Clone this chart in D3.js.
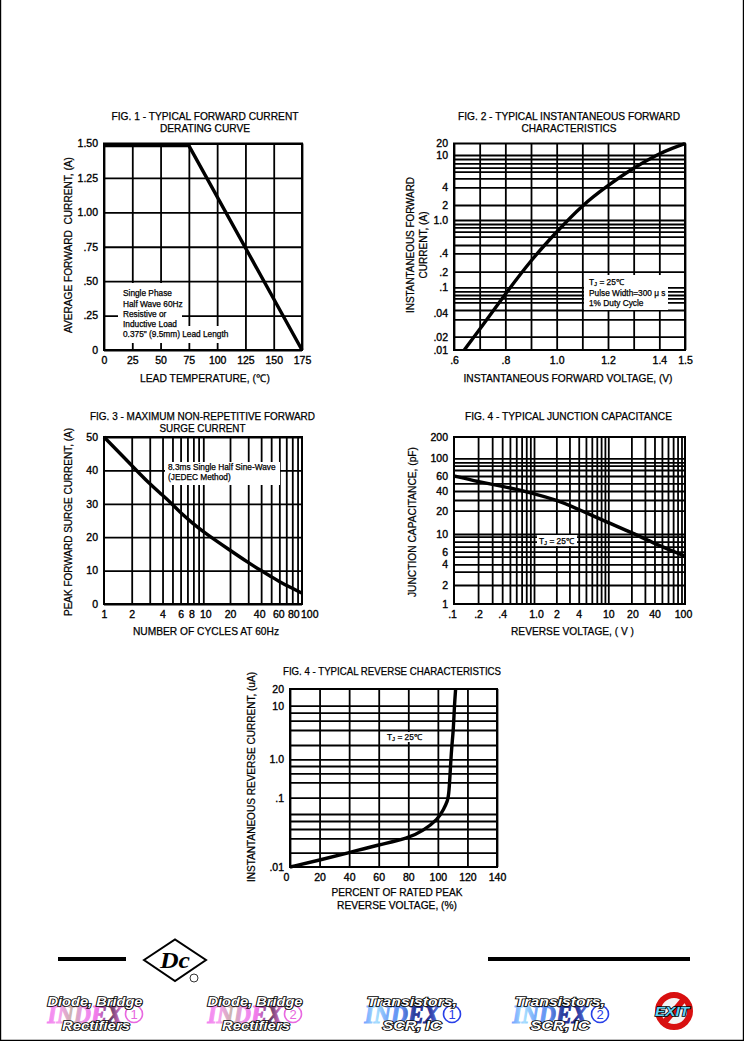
<!DOCTYPE html>
<html><head><meta charset="utf-8">
<script src="https://cdn.jsdelivr.net/npm/d3@7/dist/d3.min.js"></script>
<style>
html,body{margin:0;padding:0;background:#fff}
svg{display:block}
text{font-family:"Liberation Sans",Arial,sans-serif;fill:#000;white-space:pre}
.grid line{stroke:#000;stroke-width:1.8}
.grid path{display:none}
.tick text{font-size:10.5px;stroke:#000;stroke-width:.35}
.title,.axt{font-size:10.6px;text-anchor:middle;stroke:#000;stroke-width:.25}
.note{font-size:8.3px;stroke:#000;stroke-width:.25}
.curve{fill:none;stroke:#000;stroke-width:3.4;stroke-linejoin:round}
</style></head><body>
<script>
// ---- data ----
const fig1XTicks=[0,25,50,75,100,125,150,175];
const fig1YTicks=[0,.25,.5,.75,1,1.25,1.5];
const fig1YLabels=["0",".25",".50",".75","1.00","1.25","1.50"];
const fig1Temp=[0,75,175];
const fig1Current=[1.485,1.485,0];

const fig2XTicks=[.6,.7,.8,.9,1,1.1,1.2,1.3,1.4,1.5];
const fig2XLabelled=[.6,.8,1,1.2,1.4,1.5];
const fig2XLabels=[".6",".8","1.0","1.2","1.4","1.5"];
const fig2YGrid=[10,9,8,7,6,5,4,2,1,.9,.8,.7,.6,.5,.4,.2,.1,.09,.08,.07,.06,.05,.03,.02];
const fig2YLabelled=[20,10,4,2,1,.4,.2,.1,.04,.02,.01];
const fig2YLabels=["20","10","4","2","1.0",".4",".2",".1",".04",".02",".01"];
const fig2Volt=[.64,.7,.8,.9,1,1.1,1.2,1.3,1.4,1.45,1.5];
const fig2Amp=[.01,.0237,.0825,.31,.7,2,4.2,7,11,15,20];

const fig3XGrid=[2,3,4,5,6,7,8,9,10,20,30,40,50,60,70,80,90];
const fig3XLabelled=[1,2,4,6,8,10,20,40,60,80,100];
const fig3YTicks=[0,10,20,30,40,50];
const fig3Cycles=[1,2,3,4,5,6,8,10,20,30,40,50,60,80,100];
const fig3Surge=[50,41.5,35.9,32.6,29.8,27.3,24,21.6,16.1,12.4,10,8.2,6.7,4.7,3.2];

const fig4XGrid=[.2,.3,.4,.5,.6,.7,.8,.9,1,2,3,4,5,6,7,8,9,10,20,30,40,50,60,70,80,90];
const fig4XLabelled=[.1,.2,.4,1,2,4,10,20,40,100];
const fig4XLabels=[".1",".2",".4","1.0","2","4","10","20","40","100"];
const fig4YGrid=[100,90,80,70,60,50,40,30,20,10,9,8,7,6,5,4,3,2];
const fig4YLabelled=[200,100,60,40,20,10,6,4,2,1];
const fig4Volt=[.1,.2,.4,1,2,4,10,20,40,100];
const fig4Cap=[60,52,46,37,30,21,14,10.5,7.6,5.1];

const fig5XTicks=[0,20,40,60,80,100,120,140];
const fig5YGrid=[10,8,6,4,2,1,.8,.6,.4,.1,.06,.05,.04,.03,.02];
const fig5YLabelled=[20,10,1,.1,.01];
const fig5YLabels=["20","10","1.0",".1",".01"];
const fig5Pct=[0,20,40,60,80,90,100,104,106.5,107.5,108.8,109.5,110.5,111.2,112];
const fig5Amp=[.01,.014,.02,.025,.03,.038,.052,.07,.09,.13,1,2,4,10,20];

const W=744,H=1041;
const svg=d3.select("body").append("svg").attr("width",W).attr("height",H);
svg.append("path").attr("d",`M.5,0V${H-.5}H${W-.5}V0`).attr("fill","none").attr("stroke","#000").attr("stroke-width",1.4);

function fit(s,len){ if(len) s.attr("textLength",len).attr("lengthAdjust","spacingAndGlyphs"); return s; }
function lines(cls,arr,cx,y0,dy,lens){arr.forEach((t,i)=>fit(svg.append("text").attr("class",cls).attr("x",cx).attr("y",y0+i*dy).attr("dy",".35em").text(t),lens&&lens[i]))}
function vtext(arr,x0,cy,dx,lens){arr.forEach((t,i)=>fit(svg.append("text").attr("class","axt").attr("transform",`translate(${x0+i*dx},${cy}) rotate(-90)`).attr("dy",".35em").text(t),lens&&lens[i]))}

function chart(o){
  const {x,y,left,right,top,bottom}=o;
  const g=svg.append("g");
  g.append("g").attr("class","grid").attr("transform",`translate(0,${bottom})`)
    .call(d3.axisBottom(x).tickValues(o.xGrid).tickSize(-(bottom-top)).tickFormat(""));
  g.append("g").attr("class","grid").attr("transform",`translate(${left},0)`)
    .call(d3.axisLeft(y).tickValues(o.yGrid).tickSize(-(right-left)).tickFormat(""));
  (o.boxes||[]).forEach(b=>g.append("rect").attr("x",b[0]).attr("y",b[1]).attr("width",b[2]-b[0]).attr("height",b[3]-b[1]).attr("fill","#fff"));
  g.append("rect").attr("x",left).attr("y",top).attr("width",right-left).attr("height",bottom-top).attr("fill","none").attr("stroke","#000").attr("stroke-width",2);
  const ax=g.append("g").attr("transform",`translate(0,${bottom})`)
    .call(d3.axisBottom(x).tickValues(o.xLab).tickSize(0).tickPadding(o.xPad||7).tickFormat((d,i)=>o.xText?o.xText[i]:d));
  ax.select(".domain").remove();
  if(o.xNudge) ax.selectAll(".tick text").attr("dx",(d,i)=>o.xNudge[i]||0);
  const ay=g.append("g").attr("transform",`translate(${left},0)`)
    .call(d3.axisLeft(y).tickValues(o.yLab).tickSize(0).tickPadding(o.yPad||6).tickFormat((d,i)=>o.yText?o.yText[i]:d));
  ay.select(".domain").remove();
  g.append("path").attr("class","curve").datum(o.xs.map((v,i)=>[v,o.ys[i]]))
    .attr("d",d3.line().x(d=>x(d[0])).y(d=>y(d[1])).curve(o.straight?d3.curveLinear:d3.curveBasis));
}
function tj(x,y){
  const n=svg.append("text").attr("class","note").attr("x",x).attr("y",y).attr("dy",".35em");
  n.append("tspan").text("T"); n.append("tspan").attr("font-size",6).attr("dy",1.5).text("J");
  n.append("tspan").attr("dy",-1.5).text(" = 25℃");
}

// FIG 1
chart({left:104,right:302,top:143.5,bottom:350,
  x:d3.scaleLinear().domain([0,175]).range([104,302]),
  y:d3.scaleLinear().domain([0,1.5]).range([350,143.5]),
  xGrid:fig1XTicks,yGrid:fig1YTicks,xLab:fig1XTicks,yLab:fig1YTicks,yText:fig1YLabels,
  xs:fig1Temp,ys:fig1Current,straight:true,
  boxes:[[118,283,182,326],[118,326,232,343]]});
lines("title",["FIG. 1 - TYPICAL FORWARD CURRENT","DERATING CURVE"],205,116,12,[187,90]);
vtext(["AVERAGE FORWARD  CURRENT, (A)"],68,245,0,[176]);
lines("axt",["LEAD TEMPERATURE, (℃)"],205,378,0,[130]);
["Single Phase","Half Wave 60Hz","Resistive or","Inductive Load","0.375\" (9.5mm) Lead Length"].forEach((t,i)=>
  svg.append("text").attr("class","note").attr("x",123).attr("y",293.5+i*10.2).attr("dy",".35em").text(t));

// FIG 2
chart({left:454,right:685,top:143.5,bottom:350,
  x:d3.scaleLinear().domain([.6,1.5]).range([454,685]),
  y:d3.scaleLog().domain([.01,.02,.03,.04,.05,.06,.07,.08,.09,.1,.2,.4,.5,.6,.7,.8,.9,1,2,4,5,6,7,8,9,10,20])
   .range([350,336.7,319.3,313.3,310,302.3,298.3,295,291.3,287.3,271.7,253.3,245,236.7,231.7,227.3,224,220,205,187.3,178.3,171.7,167.7,163.3,159,155,143.5]),
  xGrid:fig2XTicks,yGrid:fig2YGrid,xLab:fig2XLabelled,xText:fig2XLabels,yLab:fig2YLabelled,yText:fig2YLabels,
  xs:fig2Volt,ys:fig2Amp,
  boxes:[[584,275,668,310]]});
lines("title",["FIG. 2 - TYPICAL INSTANTANEOUS FORWARD","CHARACTERISTICS"],569,116,12,[222,95]);
vtext(["INSTANTANEOUS FORWARD","CURRENT, (A)"],410.5,245,13,[136,67]);
lines("axt",["INSTANTANEOUS FORWARD VOLTAGE, (V)"],568,378,0,[209]);
tj(589,282);
svg.append("text").attr("class","note").attr("x",589).attr("y",293).attr("dy",".35em").text("Pulse Width=300 μ s");
svg.append("text").attr("class","note").attr("x",589).attr("y",303.5).attr("dy",".35em").text("1% Duty Cycle");

// FIG 3
chart({left:104,right:302,top:437,bottom:604,
  x:d3.scaleLog().domain([1,2,10,20,100]).range([104,131.7,203.3,230,302.3]),
  y:d3.scaleLinear().domain([0,50]).range([604,437]),
  xGrid:fig3XGrid,yGrid:fig3YTicks,xLab:fig3XLabelled,xNudge:[0,0,0,0,-2,2,0,-2,-1,1,7],yLab:fig3YTicks,
  xs:fig3Cycles,ys:fig3Surge,
  boxes:[[165,462,280,485]]});
lines("title",["FIG. 3 - MAXIMUM NON-REPETITIVE FORWARD","SURGE CURRENT"],202.5,416,12,[225,86]);
vtext(["PEAK FORWARD SURGE CURRENT, (A)"],68,522,0,[188]);
lines("axt",["NUMBER OF CYCLES AT 60Hz"],206,631,0,[146]);
["8.3ms Single Half Sine-Wave","(JEDEC Method)"].forEach((t,i)=>
  svg.append("text").attr("class","note").attr("x",168).attr("y",467+i*10).attr("dy",".35em").text(t));

// FIG 4
chart({left:454,right:685,top:437,bottom:604,
  x:d3.scaleLog().domain([.1,1,10,100]).range([454,534,608.3,685]),
  y:d3.scaleLog().domain([1,2,3,4,5,6,7,8,9,10,20,30,40,50,60,70,80,90,100,200])
   .range([604,585,571.7,564.3,556.7,551.7,546.7,541.7,536.7,534,510.7,500,491,483.3,476,470,465.7,462.3,458.3,436.7]),
  xGrid:fig4XGrid,yGrid:fig4YGrid,xLab:fig4XLabelled,xText:fig4XLabels,xNudge:[-2,0,0,2,0,0,0,1,0,-2],yLab:fig4YLabelled,
  xs:fig4Volt,ys:fig4Cap,
  boxes:[[537,535,577,546]]});
lines("title",["FIG. 4 - TYPICAL JUNCTION CAPACITANCE"],568.5,416,0,[207]);
vtext(["JUNCTION CAPACITANCE, (pF)"],412,522,0,[150]);
lines("axt",["REVERSE VOLTAGE, ( V )"],572.5,631,0,[123]);
tj(539,541);

// FIG 5
chart({left:290,right:497,top:689,bottom:867,
  x:d3.scaleLinear().domain([0,140]).range([290,497]),
  y:d3.scaleLog().domain([.01,.02,.03,.04,.05,.06,.1,.4,.6,.8,1,2,4,6,8,10,20])
   .range([867,852.7,838.3,829,821,814,797.7,782.3,773.3,766,759.3,745,730,720.7,712.7,705.7,689.3]),
  xGrid:fig5XTicks,yGrid:fig5YGrid,xLab:fig5XTicks,xNudge:[-4,0,0,0,0,0,0,0],yLab:fig5YLabelled,yText:fig5YLabels,
  xs:fig5Pct,ys:fig5Amp,
  boxes:[[383,732,423,742]]});
lines("title",["FIG. 4 - TYPICAL REVERSE CHARACTERISTICS"],392,671,0,[218]);
vtext(["INSTANTANEOUS REVERSE CURRENT, (uA)"],251,777,0,[210]);
lines("axt",["PERCENT OF RATED PEAK","REVERSE VOLTAGE, (%)"],397,892,13,[131,120]);
tj(387,737);

// ---- footer ----
svg.append("rect").attr("x",58).attr("y",957).attr("width",68).attr("height",4);
svg.append("rect").attr("x",488).attr("y",957).attr("width",202).attr("height",4);
svg.append("path").attr("d","M144,960L175,939.5L206,960L175,981Z").attr("fill","none").attr("stroke","#000").attr("stroke-width",2);
svg.append("text").attr("x",175).attr("y",968).attr("text-anchor","middle").attr("font-size",24).attr("font-style","italic").attr("font-weight","bold")
  .attr("textLength",30).attr("lengthAdjust","spacingAndGlyphs").style("font-family","'Liberation Serif',serif").text("Dc");
svg.append("circle").attr("cx",194).attr("cy",978).attr("r",4).attr("fill","#fff").attr("stroke","#000").attr("stroke-width",.8);

const defs=svg.append("defs");
function grad(id,c){const g=defs.append("linearGradient").attr("id",id).attr("x1",0).attr("x2",1);
  c.forEach((k,i)=>g.append("stop").attr("offset",i/(c.length-1)).attr("stop-color",k));}
grad("pink",["#f080f0","#f8a0f0","#c8b4a8","#f090f0","#f078e8","#603860","#f080e8"]);
grad("blue",["#70a0ff","#a8e0ff","#70a0f8","#6090f0","#2c3c9c","#202c90","#6080f0"]);
function logo(cx,top,bot,fill,col,num,circ){
  const out=(s,x,y,len)=>svg.append("text").attr("x",x).attr("y",y).attr("text-anchor","middle").attr("font-size",12.5)
    .attr("textLength",len).attr("lengthAdjust","spacingAndGlyphs")
    .attr("font-style","italic").attr("font-weight","bold").style("fill","#fff").style("stroke","#000").style("stroke-width",1.7).style("paint-order","stroke").text(s);
  svg.append("text").attr("x",cx-10).attr("y",1023).attr("text-anchor","middle").attr("font-size",26).attr("font-style","italic").attr("font-weight","bold")
    .attr("textLength",75).attr("lengthAdjust","spacingAndGlyphs")
    .style("font-family","'Liberation Serif',serif").style("fill",`url(#${fill})`).style("stroke",`url(#${fill})`).style("stroke-width",1.1).text("INDEX");
  svg.append("circle").attr("cx",circ).attr("cy",1014).attr("r",8.5).attr("fill","#fff").attr("stroke",col).attr("stroke-width",1.6);
  svg.append("text").attr("x",circ).attr("y",1019).attr("text-anchor","middle").attr("font-size",13).style("fill",col).text(num);
  out(top,cx,1005.5,top[0]=="D"?95:90);
  out(bot,cx+(top[0]=="D"?1:0),1030,top[0]=="D"?68:59);
}
logo(95,"Diode, Bridge","Rectifiers","pink","#e868e0","1",134);
logo(255,"Diode, Bridge","Rectifiers","pink","#e868e0","2",293);
logo(412,"Transistors,","SCR, IC","blue","#2840e8","1",452);
logo(560,"Transistors,","SCR, IC","blue","#2840e8","2",600);
svg.append("circle").attr("cx",674).attr("cy",1011).attr("r",16).attr("fill","#f4f4f4").attr("stroke","#d81010").attr("stroke-width",6);
svg.append("line").attr("x1",663).attr("y1",1024).attr("x2",685).attr("y2",998).attr("stroke","#d81010").attr("stroke-width",6);
svg.append("text").attr("x",672).attr("y",1015.5).attr("text-anchor","middle").attr("font-size",12).attr("font-style","italic").attr("font-weight","bold")
  .attr("textLength",34).attr("lengthAdjust","spacingAndGlyphs")
  .style("fill","#60d0f4").style("stroke","#000").style("stroke-width",1.4).style("paint-order","stroke").text("EXIT");
</script>
</body></html>
